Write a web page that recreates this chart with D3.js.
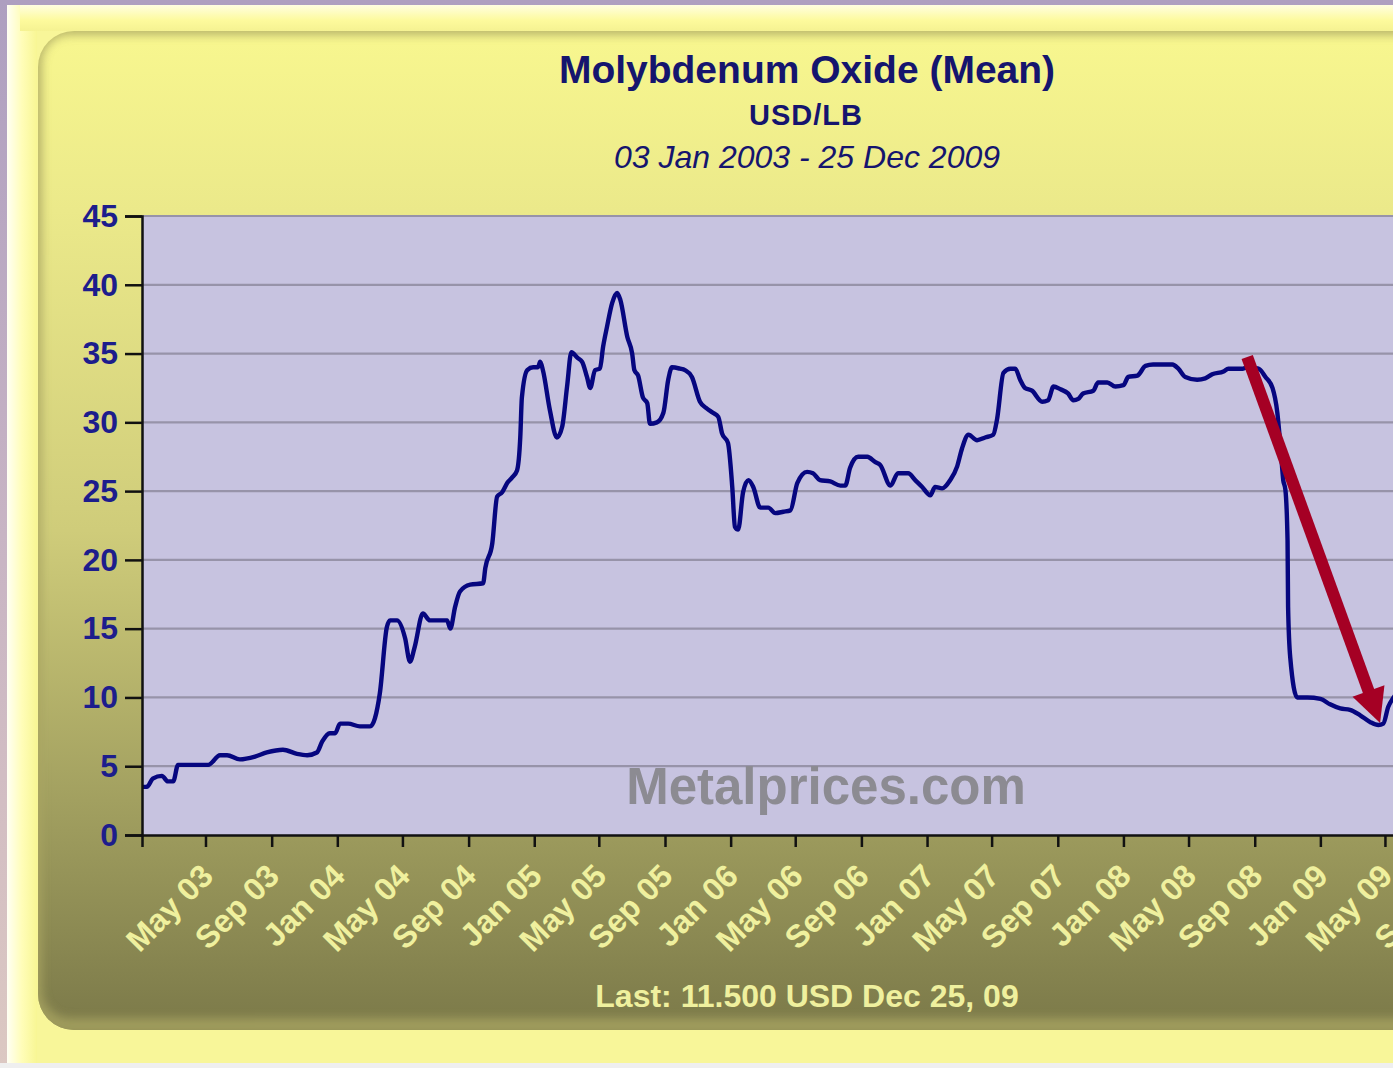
<!DOCTYPE html>
<html>
<head>
<meta charset="utf-8">
<script src="https://cdnjs.cloudflare.com/ajax/libs/d3/7.8.5/d3.min.js"></script>
<style>
  body { margin: 0; overflow: hidden; background: #efefef; }
  text { font-family: "Liberation Sans", Arial, sans-serif; }
</style>
</head>
<body>
<script>
// Chart text
const title = "Molybdenum Oxide (Mean)";
const unit = "USD/LB";
const period = "03 Jan 2003 - 25 Dec 2009";
const lastLabel = "Last: 11.500 USD Dec 25, 09";
const watermark = "Metalprices.com";

// Weekly mean price (USD/LB)
const dates = [
  "2003-01-03","2003-01-12","2003-01-23","2003-02-09","2003-02-20","2003-03-02","2003-03-11","2003-04-02",
  "2003-05-06","2003-05-28","2003-06-10","2003-07-04","2003-08-01","2003-08-23","2003-09-22","2003-10-18",
  "2003-11-06","2003-11-24","2003-12-04","2003-12-18","2003-12-28","2004-01-06","2004-01-21","2004-02-12",
  "2004-03-02","2004-03-20","2004-04-02","2004-04-08","2004-04-21","2004-05-06","2004-05-15","2004-05-24",
  "2004-06-08","2004-06-21","2004-07-23","2004-07-29","2004-08-07","2004-08-16","2004-09-04","2004-09-28",
  "2004-10-02","2004-10-15","2004-10-24","2004-11-02","2004-11-12","2004-11-21","2004-11-30","2004-12-06",
  "2004-12-09","2004-12-19","2004-12-30","2005-01-08","2005-01-12","2005-01-17","2005-01-30","2005-02-12",
  "2005-02-22","2005-03-03","2005-03-11","2005-03-22","2005-03-31","2005-04-09","2005-04-15","2005-04-24",
  "2005-05-03","2005-05-09","2005-05-16","2005-05-26","2005-06-04","2005-06-10","2005-06-23","2005-07-02",
  "2005-07-06","2005-07-13","2005-07-22","2005-07-30","2005-08-04","2005-08-17","2005-08-29","2005-09-07",
  "2005-09-14","2005-09-29","2005-10-08","2005-10-21","2005-11-05","2005-11-18","2005-11-29","2005-12-09",
  "2005-12-16","2005-12-27","2006-01-04","2006-01-09","2006-01-15","2006-01-24","2006-02-03","2006-02-12",
  "2006-02-25","2006-03-12","2006-03-25","2006-04-09","2006-04-22","2006-05-05","2006-05-23","2006-06-03",
  "2006-06-16","2006-07-05","2006-07-24","2006-08-02","2006-08-11","2006-08-26","2006-09-12","2006-09-27",
  "2006-10-06","2006-10-25","2006-11-08","2006-11-27","2006-12-10","2006-12-23","2007-01-07","2007-01-16",
  "2007-01-29","2007-02-13","2007-02-26","2007-03-07","2007-03-19","2007-04-04","2007-04-19","2007-05-04",
  "2007-05-11","2007-05-23","2007-06-05","2007-06-14","2007-06-23","2007-07-02","2007-07-15","2007-08-03",
  "2007-08-14","2007-08-24","2007-09-06","2007-09-20","2007-09-30","2007-10-09","2007-10-18","2007-11-06",
  "2007-11-15","2007-12-02","2007-12-17","2008-01-01","2008-01-10","2008-01-27","2008-02-11","2008-02-25",
  "2008-04-01","2008-04-12","2008-04-25","2008-05-17","2008-06-01","2008-06-14","2008-07-05","2008-07-14",
  "2008-08-09","2008-08-18","2008-09-08","2008-09-21","2008-10-04","2008-10-13","2008-10-19","2008-10-24",
  "2008-10-28","2008-11-01","2008-11-02","2008-11-06","2008-11-19","2008-12-08","2009-01-01","2009-01-19",
  "2009-02-07","2009-02-25","2009-03-16","2009-04-04","2009-04-19","2009-04-28","2009-05-07","2009-05-17",
  "2009-06-15","2009-07-20","2009-08-20","2009-10-01","2009-11-15","2009-12-25"
];
const prices = [
  3.5, 3.5, 4.1, 4.3, 3.9, 3.9, 5.1, 5.1,
  5.1, 5.8, 5.8, 5.5, 5.7, 6.0, 6.2, 5.9,
  5.8, 6.0, 6.8, 7.4, 7.4, 8.1, 8.1, 7.9,
  7.9, 10.3, 15.1, 15.6, 15.6, 14.3, 12.6, 13.7,
  16.1, 15.6, 15.6, 15.0, 16.6, 17.7, 18.2, 18.3,
  19.4, 21.2, 24.6, 24.9, 25.6, 26.0, 26.5, 28.9,
  31.8, 33.8, 34.0, 34.0, 34.4, 33.8, 30.9, 28.9,
  29.7, 32.6, 35.1, 34.7, 34.4, 33.3, 32.5, 33.8,
  33.9, 35.5, 36.9, 38.7, 39.4, 38.9, 36.2, 35.0,
  33.8, 33.4, 31.8, 31.4, 29.9, 30.0, 30.7, 33.1,
  34.0, 33.9, 33.8, 33.3, 31.5, 31.0, 30.7, 30.4,
  29.2, 28.5, 25.3, 22.4, 22.2, 24.9, 25.8, 25.3,
  23.8, 23.8, 23.4, 23.5, 23.6, 25.6, 26.4, 26.3,
  25.8, 25.7, 25.4, 25.4, 26.7, 27.5, 27.5, 27.1,
  26.9, 25.4, 26.3, 26.3, 25.8, 25.3, 24.7, 25.3,
  25.2, 25.8, 26.8, 28.1, 29.1, 28.7, 28.9, 29.1,
  30.2, 33.6, 33.9, 33.9, 33.1, 32.5, 32.3, 31.5,
  31.6, 32.6, 32.4, 32.1, 31.6, 31.7, 32.1, 32.3,
  32.9, 32.9, 32.6, 32.7, 33.3, 33.4, 34.1, 34.2,
  34.2, 33.9, 33.3, 33.1, 33.2, 33.5, 33.7, 33.9,
  33.9, 34.0, 33.9, 33.3, 32.5, 30.7, 28.2, 25.8,
  25.1, 21.4, 16.6, 12.9, 10.0, 10.0, 9.9, 9.5,
  9.2, 9.1, 8.7, 8.2, 8.0, 8.1, 9.3, 10.0,
  11.0, 14.5, 17.0, 13.0, 11.0, 11.5
];
const yTicks = [0, 5, 10, 15, 20, 25, 30, 35, 40, 45];

// Red annotation arrow (date, value) from start to tip
const arrowDates = ["2008-08-18", "2009-04-22"];
const arrowValues = [34.75, 8.15];

const W = 1393, H = 1068;
const parse = d3.timeParse("%Y-%m-%d");
const data = dates.map((d, i) => ({ date: parse(d), value: prices[i] }));

const svg = d3.select("body").append("svg")
  .attr("width", W).attr("height", H);

const defs = svg.append("defs");

function linGrad(id, x2, y2, stops) {
  const g = defs.append("linearGradient").attr("id", id)
    .attr("x1", 0).attr("y1", 0).attr("x2", x2).attr("y2", y2);
  stops.forEach(s => g.append("stop").attr("offset", s[0]).attr("stop-color", s[1]));
}
linGrad("edgeBg", 0, 1, [[0, "#ae9fc0"], [0.5, "#c8b4c4"], [1, "#dcc8c2"]]);
linGrad("leftHi", 1, 0, [[0, "#fffff4"], [0.5, "#fffdb8"], [1, "#f8f694"]]);
linGrad("topHi", 0, 1, [[0, "#fffee0"], [0.6, "#fdfa9c"], [1, "#f5f292"]]);
linGrad("panel", 0, 1, [[0, "#f8f78f"], [0.18, "#ebe98a"], [0.5, "#cfcc7a"], [0.8, "#9d9b5d"], [1, "#7b7949"]]);

defs.append("filter").attr("id", "blur")
  .attr("x", "-10%").attr("y", "-10%").attr("width", "120%").attr("height", "120%")
  .append("feGaussianBlur").attr("stdDeviation", 5);

// Outer frame
svg.append("rect").attr("width", W).attr("height", H).attr("fill", "url(#edgeBg)");
svg.append("rect").attr("x", 7).attr("y", 5).attr("width", W).attr("height", 1058).attr("fill", "#f8f699");
svg.append("rect").attr("x", 7).attr("y", 5).attr("width", 30).attr("height", 1058).attr("fill", "url(#leftHi)");
svg.append("rect").attr("x", 20).attr("y", 5).attr("width", W).attr("height", 26).attr("fill", "url(#topHi)");
svg.append("rect").attr("x", 0).attr("y", 1063).attr("width", W).attr("height", 5).attr("fill", "#efefef");

// Inner rounded panel with soft shadow
const panel = { x: 38, y: 31, w: 1500, h: 999, r: 36 };
defs.append("clipPath").attr("id", "panelClip").append("rect")
  .attr("x", panel.x).attr("y", panel.y).attr("width", panel.w).attr("height", panel.h).attr("rx", panel.r);
svg.append("rect")
  .attr("x", panel.x).attr("y", panel.y).attr("width", panel.w).attr("height", panel.h).attr("rx", panel.r)
  .attr("fill", "url(#panel)");
svg.append("g").attr("clip-path", "url(#panelClip)")
  .append("rect")
  .attr("x", panel.x - 4).attr("y", panel.y - 4).attr("width", panel.w).attr("height", panel.h).attr("rx", panel.r)
  .attr("fill", "none").attr("stroke", "#a9a562").attr("stroke-width", 16).attr("opacity", 0.8)
  .attr("filter", "url(#blur)");

// Scales
const x = d3.scaleTime()
  .domain([parse(dates[0]), parse(dates[dates.length - 1])])
  .range([142, 1513]);
const y = d3.scaleLinear().domain([0, 45]).range([835, 216]);

// Plot background + grid
svg.append("rect")
  .attr("x", x.range()[0]).attr("y", y(45))
  .attr("width", x.range()[1] - x.range()[0]).attr("height", y(0) - y(45))
  .attr("fill", "#c7c3e0");

svg.append("g").selectAll("line")
  .data(yTicks.filter(t => t > 0))
  .join("line")
  .attr("x1", x.range()[0]).attr("x2", x.range()[1])
  .attr("y1", d => y(d)).attr("y2", d => y(d))
  .attr("stroke", "#9793a9").attr("stroke-width", 2.2);

// Watermark
svg.append("text")
  .attr("x", 826).attr("y", 804)
  .attr("text-anchor", "middle")
  .attr("font-size", 51).attr("font-weight", "bold")
  .attr("fill", "#8c8b92")
  .text(watermark);

// Price line
const line = d3.line()
  .x(d => x(d.date))
  .y(d => y(d.value))
  .curve(d3.curveMonotoneX);
svg.append("path")
  .datum(data)
  .attr("d", line)
  .attr("fill", "none")
  .attr("stroke", "#06067f")
  .attr("stroke-width", 4.4)
  .attr("stroke-linejoin", "round");

// Axes
const yAxis = svg.append("g")
  .attr("transform", `translate(${x.range()[0]},0)`)
  .call(d3.axisLeft(y).tickValues(yTicks).tickSize(17).tickPadding(7).tickFormat(d3.format("d")));
yAxis.select(".domain").attr("stroke", "#111").attr("stroke-width", 2.5);
yAxis.selectAll(".tick line").attr("stroke", "#111").attr("stroke-width", 2.5);
yAxis.selectAll(".tick text")
  .attr("font-family", "'Liberation Sans', Arial, sans-serif")
  .attr("font-size", 32).attr("font-weight", "bold")
  .attr("fill", "#1d1d8c");

const xTickDates = d3.timeMonth.range(new Date(2003, 4, 1), new Date(2010, 0, 1), 4);
const xAxis = svg.append("g")
  .attr("transform", `translate(0,${y(0)})`)
  .call(d3.axisBottom(x).tickValues(xTickDates).tickSize(12).tickFormat(d3.timeFormat("%b %y")));
xAxis.select(".domain").attr("stroke", "#111").attr("stroke-width", 2.5);
xAxis.selectAll(".tick line").attr("stroke", "#111").attr("stroke-width", 2.5);
xAxis.selectAll(".tick text")
  .attr("font-family", "'Liberation Sans', Arial, sans-serif")
  .attr("font-size", 32).attr("font-weight", "bold")
  .attr("fill", "#eff09e")
  .attr("text-anchor", "end")
  .attr("dy", 0)
  .attr("y", 0)
  .attr("transform", "translate(9,43) rotate(-45)");

// Red arrow annotation
const p0 = [x(parse(arrowDates[0])), y(arrowValues[0])];
const p1 = [x(parse(arrowDates[1])), y(arrowValues[1])];
const len = Math.hypot(p1[0] - p0[0], p1[1] - p0[1]);
const ux = (p1[0] - p0[0]) / len, uy = (p1[1] - p0[1]) / len;
const headLen = 34, headHalf = 17;
const base = [p1[0] - ux * headLen, p1[1] - uy * headLen];
svg.append("line")
  .attr("x1", p0[0]).attr("y1", p0[1])
  .attr("x2", base[0] + ux * 2).attr("y2", base[1] + uy * 2)
  .attr("stroke", "#a50024").attr("stroke-width", 12);
svg.append("path")
  .attr("d", d3.line()([
    p1,
    [base[0] - uy * headHalf, base[1] + ux * headHalf],
    [base[0] + uy * headHalf, base[1] - ux * headHalf]
  ]) + "Z")
  .attr("fill", "#a50024");

// Titles
svg.append("text").attr("x", 807).attr("y", 83).attr("text-anchor", "middle")
  .attr("font-size", 39).attr("font-weight", "bold").attr("fill", "#15156e").text(title);
svg.append("text").attr("x", 806).attr("y", 125).attr("text-anchor", "middle")
  .attr("font-size", 29).attr("font-weight", "bold").attr("letter-spacing", 1).attr("fill", "#15156e").text(unit);
svg.append("text").attr("x", 807).attr("y", 168).attr("text-anchor", "middle")
  .attr("font-size", 32).attr("font-style", "italic").attr("fill", "#15156e").text(period);

// Last value footer
svg.append("text").attr("x", 807).attr("y", 1007).attr("text-anchor", "middle")
  .attr("font-size", 32).attr("font-weight", "bold").attr("fill", "#eff09e").text(lastLabel);
</script>
</body>
</html>
